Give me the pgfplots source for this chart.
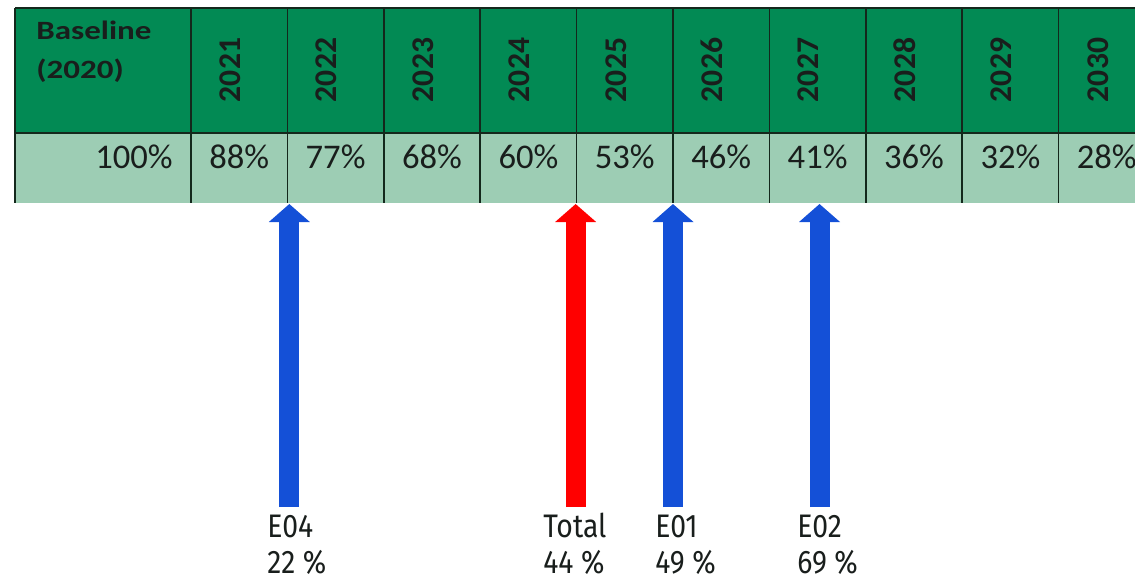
\documentclass[border=0pt]{standalone}
\usepackage{fontspec}
\setmainfont{Carlito}
\newfontfamily\lab{Fira Sans}
\usepackage{graphicx}
\usepackage{pgfplots}
\pgfplotsset{compat=1.18}
\usepackage{pgfplotstable}
\usetikzlibrary{arrows.meta}
\definecolor{hdr}{RGB}{2,138,84}
\definecolor{lightrow}{RGB}{157,205,180}
\definecolor{gridc}{RGB}{20,40,28}
\definecolor{txt}{RGB}{25,30,28}
\definecolor{arrblue}{RGB}{20,80,215}
\definecolor{arrred}{RGB}{255,0,0}

\pgfplotstableread{
x lab
1 88
2 77
3 68
4 60
5 53
6 46
7 41
8 36
9 32
10 28
}\vals

\pgfplotstableread{
x yr
1 2021
2 2022
3 2023
4 2024
5 2025
6 2026
7 2027
8 2028
9 2029
10 2030
}\years

\begin{document}
\begin{tikzpicture}
\useasboundingbox (0,0) rectangle (567.5pt,289.5pt);
\clip (0,0) rectangle (567.5pt,289.5pt);
\begin{axis}[
  at={(0,0)}, anchor=south west,
  width=567.5pt, height=289.5pt, scale only axis,
  xmin=-1.4813, xmax=10.2925,
  ymin=0, ymax=579, y dir=reverse,
  hide axis, clip=true,
]
% table background
\addplot[fill=hdr, draw=none] coordinates {(-1.3257,8) (10.8,8) (10.8,133) (-1.3257,133)} --cycle;
\addplot[fill=lightrow, draw=none] coordinates {(-1.3257,133) (10.8,133) (10.8,203) (-1.3257,203)} --cycle;
% grid lines
\addplot[gridc, line width=0.8pt, unbounded coords=jump, mark=none] coordinates {
 (-1.3257,8) (10.8,8) (nan,nan)
 (-1.3257,133) (10.8,133) (nan,nan)
 (-1.3257,8) (-1.3257,203) (nan,nan)
 (0.5,8) (0.5,203) (nan,nan)
 (1.5,8) (1.5,203) (nan,nan)
 (2.5,8) (2.5,203) (nan,nan)
 (3.5,8) (3.5,203) (nan,nan)
 (4.5,8) (4.5,203) (nan,nan)
 (5.5,8) (5.5,203) (nan,nan)
 (6.5,8) (6.5,203) (nan,nan)
 (7.5,8) (7.5,203) (nan,nan)
 (8.5,8) (8.5,203) (nan,nan)
 (9.5,8) (9.5,203)
};
% header
\node[anchor=base west, inner sep=0pt, text=txt, font=\fontsize{13.2}{15}\selectfont\bfseries] at (-1.108,39) {\scalebox{1.25}[1]{Baseline}};
\node[anchor=base west, inner sep=0pt, text=txt, font=\fontsize{13.2}{15}\selectfont\bfseries] at (-1.108,78) {\scalebox{1.25}[1]{(2020)}};
\addplot[only marks, mark=none, point meta=explicit symbolic,
  nodes near coords, nodes near coords style={anchor=center, rotate=90, inner sep=0pt, text=txt, font=\fontsize{15.8}{18}\selectfont\bfseries}]
  table[x expr=\thisrow{x}-0.093, y expr=70, meta=yr] \years;
% values
\addplot[only marks, mark=none, point meta=explicit symbolic,
  nodes near coords={\pgfplotspointmeta\%}, nodes near coords style={anchor=base east, inner sep=0pt, text=txt, font=\fontsize{17.3}{20}\selectfont}]
  coordinates {(0.3133,168) [100]};
\addplot[only marks, mark=none, point meta=explicit symbolic,
  nodes near coords={\pgfplotspointmeta\%}, nodes near coords style={anchor=base, inner sep=0pt, text=txt, font=\fontsize{17.3}{20}\selectfont}]
  table[x=x, y expr=168, meta=lab] \vals;
% arrows
\addplot[arrblue, line width=10pt, mark=none, -{Triangle[width=20pt,length=9pt]}] coordinates {(1.52,507) (1.52,204)};
\addplot[arrred, line width=10pt, mark=none, -{Triangle[width=20pt,length=9pt]}] coordinates {(4.49,507) (4.49,204)};
\addplot[arrblue, line width=10pt, mark=none, -{Triangle[width=20pt,length=9pt]}] coordinates {(5.5,507) (5.5,204)};
\addplot[arrblue, line width=10pt, mark=none, -{Triangle[width=20pt,length=9pt]}] coordinates {(7.02,507) (7.02,204)};
% labels
\tikzset{lbl/.style={anchor=base west, inner sep=0pt, text=txt, font=\lab\fontsize{16.3}{19}\selectfont}}
\node[lbl] at (1.288,537) {\scalebox{0.87}[1]{E04}};
\node[lbl] at (1.288,573) {\scalebox{0.87}[1]{22 \%}};
\node[lbl] at (4.151,537) {\scalebox{0.87}[1]{Total}};
\node[lbl] at (4.151,573) {\scalebox{0.87}[1]{44 \%}};
\node[lbl] at (5.313,537) {\scalebox{0.87}[1]{E01}};
\node[lbl] at (5.313,573) {\scalebox{0.87}[1]{49 \%}};
\node[lbl] at (6.786,537) {\scalebox{0.87}[1]{E02}};
\node[lbl] at (6.786,573) {\scalebox{0.87}[1]{69 \%}};
\end{axis}
\end{tikzpicture}
\end{document}
